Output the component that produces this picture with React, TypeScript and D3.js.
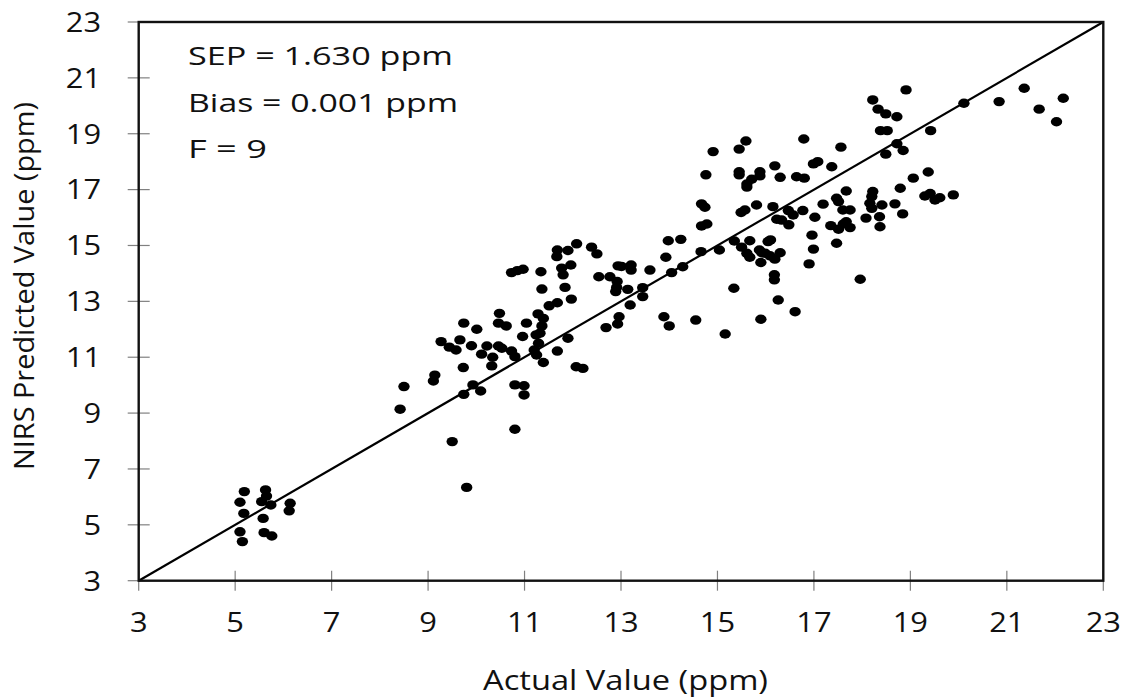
import React from "react";
import * as d3 from "d3";

// Actual vs. NIRS predicted values (ppm), validation set
const actual: number[] = [
  5.19, 5.63, 5.65, 5.10, 5.55, 5.74, 6.14, 6.12, 5.18, 5.58, 5.10, 5.60, 5.76, 5.15,
  12.08, 11.68, 11.90, 12.39, 12.50, 11.67, 10.73, 10.85, 10.97, 11.34, 11.77, 11.96, 11.80, 12.54,
  11.36, 11.84, 11.97, 11.51, 11.68, 10.48, 11.28, 11.39, 9.74, 10.46, 10.62, 11.04, 10.01, 11.36,
  11.32, 11.24, 10.96, 9.27, 9.66, 9.44, 9.58, 9.90, 10.22, 10.11, 10.46, 10.53, 10.73, 10.80,
  10.34, 10.32, 11.29, 11.20, 11.25, 11.39, 11.68, 11.90, 9.73, 12.07, 12.21, 9.14, 9.11, 8.50,
  9.93, 9.74, 10.09, 10.80, 10.99, 10.99, 8.42, 10.80, 9.50, 9.80,
  14.67, 14.74, 14.67, 14.78, 13.98, 14.24, 13.93, 14.66, 15.04, 13.60, 14.05, 14.28, 12.94, 13.01,
  13.21, 13.21, 12.77, 12.92, 12.91, 12.89, 13.14, 13.45, 13.45, 13.19, 12.96, 12.93, 12.69, 13.89,
  14.00, 14.55, 14.91, 14.76,
  18.91, 18.22, 18.33, 18.49, 18.72, 18.38, 18.52, 18.72, 18.85, 18.49, 17.56, 16.79, 15.59, 15.45,
  15.45, 15.45, 15.88, 15.88, 15.71, 15.61, 15.61, 16.19, 16.30, 16.64, 16.80, 16.99, 17.08, 17.37,
  19.06, 18.79, 18.22, 18.20, 18.16, 18.20, 18.41, 18.68, 18.84, 18.36, 18.37, 18.08, 17.67, 17.47,
  17.51, 17.19, 17.60, 17.75, 17.67, 17.61, 17.51, 17.75, 17.35, 17.47, 17.02, 16.77, 16.47, 16.57,
  16.48, 16.23, 16.33, 16.15, 15.81, 15.49, 15.57, 15.35, 15.67, 15.50, 15.61, 15.67, 15.87, 15.92,
  16.05, 16.10, 15.99, 16.09, 16.19, 16.30, 15.90, 16.18, 16.18, 15.34, 16.26, 16.61, 15.90, 15.16,
  16.90, 16.99, 16.96, 17.96,
  19.30, 19.41, 19.51, 19.61, 19.89, 19.37, 19.42, 20.11, 20.84, 21.36, 21.67, 22.17, 22.03,
];

const predicted: number[] = [
  6.19, 6.25, 6.03, 5.81, 5.83, 5.71, 5.77, 5.50, 5.41, 5.23, 4.75, 4.72, 4.60, 4.40,
  15.06, 14.84, 14.82, 14.94, 14.70, 14.60, 14.03, 14.10, 14.15, 14.06, 14.19, 14.30, 13.95, 13.88,
  13.44, 13.50, 13.08, 12.84, 12.95, 12.57, 12.55, 12.39, 12.22, 12.22, 12.12, 12.22, 12.00, 12.12,
  11.86, 11.80, 11.74, 11.56, 11.62, 11.36, 11.26, 11.41, 11.40, 11.11, 11.40, 11.32, 11.22, 11.02,
  11.00, 10.69, 11.50, 11.26, 11.08, 10.81, 11.22, 11.68, 10.63, 10.66, 10.60, 10.36, 10.15, 9.95,
  10.01, 9.67, 9.79, 10.01, 9.98, 9.65, 9.14, 8.42, 7.98, 6.34,
  16.49, 16.37, 15.70, 15.77, 15.17, 15.22, 14.58, 14.78, 14.84, 14.12, 14.03, 14.24, 14.27, 14.25,
  14.30, 14.12, 13.88, 13.71, 13.50, 13.35, 13.43, 13.49, 13.17, 12.87, 12.45, 12.19, 12.06, 12.45,
  12.12, 12.33, 18.36, 17.53,
  20.57, 20.21, 19.88, 19.71, 19.61, 19.11, 19.11, 18.64, 18.40, 18.27, 18.52, 18.81, 18.74, 18.45,
  17.64, 17.53, 17.64, 17.49, 17.37, 17.20, 17.09, 17.85, 17.44, 17.46, 17.41, 17.92, 18.00, 17.82,
  17.41, 17.05, 16.93, 16.75, 16.51, 16.33, 16.45, 16.49, 16.13, 16.03, 15.67, 15.98, 16.95, 16.69,
  16.57, 16.48, 16.27, 16.27, 15.85, 15.77, 15.58, 15.64, 15.71, 15.08, 16.01, 16.25, 16.25, 16.09,
  15.74, 15.94, 15.91, 16.39, 16.45, 16.18, 16.27, 15.16, 15.17, 14.94, 14.72, 14.58, 14.84, 14.74,
  15.14, 15.20, 14.72, 14.63, 14.51, 14.74, 14.39, 13.95, 13.77, 13.47, 13.05, 12.63, 12.36, 11.83,
  14.34, 14.87, 15.37, 13.79,
  16.77, 16.86, 16.63, 16.71, 16.81, 17.63, 19.11, 20.09, 20.15, 20.63, 19.88, 20.27, 19.43,
];

const tickValues: number[] = [3, 5, 7, 9, 11, 13, 15, 17, 19, 21, 23];
const axisRange: [number, number] = [3, 23];

const statLines: string[] = ["SEP = 1.630 ppm", "Bias = 0.001 ppm", "F = 9"];
const statWidths: number[] = [265, 270, 79];
const xTitle = "Actual Value (ppm)";
const yTitle = "NIRS Predicted Value (ppm)";

const W = 1129;
const H = 698;
const plot = { left: 138.7, right: 1103.3, top: 22, bottom: 580.7 };
const FONT = "'Open Sans', 'DejaVu Sans', sans-serif";
const STRETCH = 1.1; // horizontal stretch of the label glyphs

export default function App() {
  const x = d3.scaleLinear().domain(axisRange).range([plot.left, plot.right]);
  const y = d3.scaleLinear().domain(axisRange).range([plot.bottom, plot.top]);
  const points = actual.map((a, i) => [a, predicted[i]] as [number, number]);
  const tickColor = "#808080";

  return (
    <svg
      width={W}
      height={H}
      style={{ position: "absolute", left: 0, top: 0, background: "#fff" }}
      fontFamily={FONT}
    >
      {/* ticks crossing the axes */}
      {tickValues.map((t) => (
        <line key={"xt" + t} x1={x(t)} x2={x(t)} y1={plot.bottom - 10} y2={plot.bottom + 10} stroke={tickColor} strokeWidth={1.2} />
      ))}
      {tickValues.map((t) => (
        <line key={"yt" + t} x1={plot.left - 11} x2={plot.left + 11} y1={y(t)} y2={y(t)} stroke={tickColor} strokeWidth={1.2} />
      ))}

      {/* 1:1 line */}
      <line x1={x(axisRange[0])} y1={y(axisRange[0])} x2={x(axisRange[1])} y2={y(axisRange[1])} stroke="#000" strokeWidth={2.2} />

      {/* frame */}
      <rect
        x={plot.left}
        y={plot.top}
        width={plot.right - plot.left}
        height={plot.bottom - plot.top}
        fill="none"
        stroke="#111"
        strokeWidth={2.4}
      />

      {/* observations */}
      {points.map(([a, p], i) => (
        <ellipse key={i} cx={x(a)} cy={y(p)} rx={5.7} ry={4.7} fill="#000" />
      ))}

      {/* tick labels */}
      {tickValues.map((t) => (
        <g key={"xl" + t} transform={`translate(${x(t)}, 631.5) scale(${STRETCH}, 1)`}>
          <text textAnchor="middle" fontSize={28} fill="#111">
            {t}
          </text>
        </g>
      ))}
      {tickValues.map((t) => (
        <g key={"yl" + t} transform={`translate(101, ${y(t)}) scale(${STRETCH}, 1)`}>
          <text dy="0.35em" textAnchor="end" fontSize={28} fill="#111">
            {t}
          </text>
        </g>
      ))}

      {/* statistics */}
      {statLines.map((s, i) => (
        <text
          key={s}
          x={188}
          y={65 + i * 46.5}
          fontSize={26}
          fill="#111"
          textLength={statWidths[i]}
          lengthAdjust="spacingAndGlyphs"
        >
          {s}
        </text>
      ))}

      {/* axis titles */}
      <text x={483} y={690} fontSize={28} fill="#111" textLength={285} lengthAdjust="spacingAndGlyphs">
        {xTitle}
      </text>
      <text
        transform={`translate(34, 470) rotate(-90)`}
        fontSize={28}
        fill="#111"
        textLength={368}
        lengthAdjust="spacingAndGlyphs"
      >
        {yTitle}
      </text>
    </svg>
  );
}
